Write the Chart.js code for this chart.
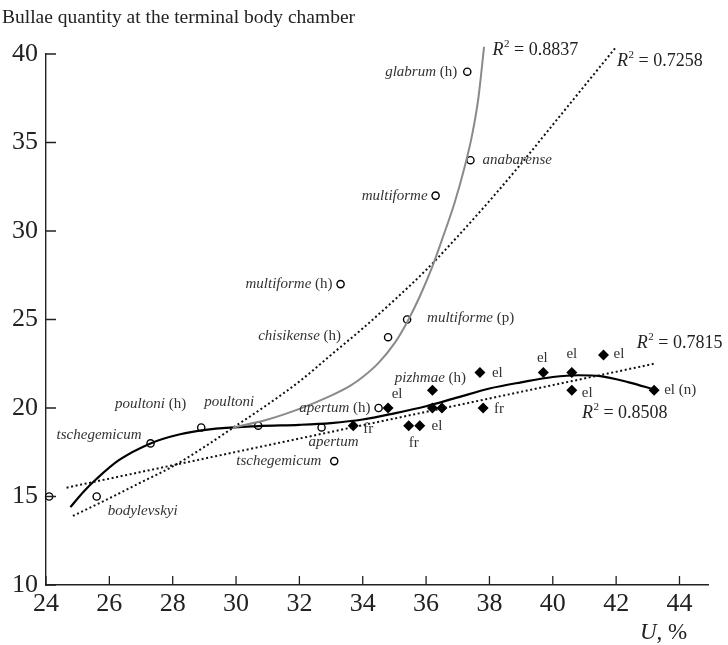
<!DOCTYPE html>
<html>
<head>
<meta charset="utf-8">
<script src="https://cdn.jsdelivr.net/npm/chart.js@4.4.1/dist/chart.umd.min.js"></script>
<style>
html,body{margin:0;padding:0;background:#fff}
</style>
</head>
<body>
<canvas id="chart" width="728" height="645"></canvas>
<script>

// DATA

// open circles (species)
const openX = [24.1, 25.6, 27.3, 28.9, 30.7, 32.7, 33.1, 34.5, 34.8, 35.4, 33.3, 36.3, 37.4, 37.3];
const openY = [15, 15, 18, 18.9, 19, 18.9, 17, 20, 24, 25, 27, 32, 34, 39];
const openNames = ["", "bodylevskyi", "tschegemicum", "poultoni (h)", "poultoni", "apertum", "tschegemicum",
  "apertum (h)", "chisikense (h)", "multiforme (p)", "multiforme (h)", "multiforme", "anabarense", "glabrum (h)"];

// filled diamonds
const filledX = [33.7, 34.8, 35.45, 35.8, 36.2, 36.2, 36.5, 37.7, 37.8, 39.7, 40.6, 40.6, 41.6, 43.2];
const filledY = [19, 20, 19, 19, 21, 20, 20, 22, 20, 22, 22, 21, 23, 21];
const filledNames = ["fr", "el", "fr", "", "pizhmae (h)", "", "el", "el", "fr", "el", "el", "el", "el", "el (n)"];

// trend lines
const grayX = [29.9, 31.0, 32.0, 33.0, 33.6, 34.0, 34.5, 35.0, 35.4, 35.8, 36.2, 36.5, 36.9, 37.2, 37.45, 37.65, 37.83];
const grayY = [18.9, 19.35, 19.95, 20.7, 21.25, 21.75, 22.55, 23.65, 24.85, 26.3, 28.0, 29.5, 31.6, 33.5, 35.4, 37.5, 40.4];

const expX = [24.85, 26, 27, 28, 29, 30, 31, 32, 33, 34, 35, 36, 37, 38, 39, 40, 41, 42];
const expY = [13.9, 14.9, 15.8, 16.7, 17.8, 19.0, 20.2, 21.5, 23.0, 24.5, 26.1, 27.8, 29.7, 31.7, 33.8, 36.0, 38.2, 40.4];

const polyX = [24.77, 25.2, 25.6, 26.3, 27.3, 28.2, 29.1, 30.7, 32, 33, 34, 35, 36, 37, 38, 39, 40, 40.8, 41.5, 42.4, 43.2];
const polyY = [14.4, 15.3, 16.0, 17.05, 18.0, 18.5, 18.78, 18.98, 19.05, 19.15, 19.35, 19.7, 20.1, 20.6, 21.1, 21.45, 21.75, 21.85, 21.8, 21.45, 21.05];

const linX = [24.65, 43.2];
const linY = [15.5, 22.5];

const r2Values = ["0.8837", "0.7258", "0.7815", "0.8508"];

const xTicks = [24, 26, 28, 30, 32, 34, 36, 38, 40, 42, 44];
const yTicks = [10, 15, 20, 25, 30, 35, 40];

// LABEL PLACEMENT (pixel offsets from the point)

const openLabelPos = [null, [11, 15, "left"], [-9, -8, "right"], [-15, -23, "right"], [-4, -24, "right"],
  [12, 15, "center"], [-13, 0, "right"], [-8, 0, "right"], [-47, -1, "right"], [20, -1, "left"],
  [-8, 0, "right"], [-8, 0, "right"], [12, 0, "left"], [-10, 0, "right"]];

const filledLabelPos = [[10, 3, "left"], [9, -14, "center"], [5, 17, "center"], null, [-2, -12, "center"], null,
  [-5, 18, "center"], [12, 0, "left"], [11, 1, "left"], [-1, -15, "center"], [0, -19, "center"],
  [10, 3, "left"], [10, -1, "left"], [10, 0, "left"]];

// anchors of the R2 texts, in axis units
const r2AnchorX = [38.1, 42.03, 42.65, 40.92];
const r2AnchorY = [40.2, 39.6, 23.67, 19.72];

const SERIF = "'Liberation Serif', 'DejaVu Serif', serif";

function toPoints(xs, ys){
  return xs.map((v, i) => ({x: v, y: ys[i]}));
}

// draw text with italic species name and regular "(h)", "el", "fr"
function drawRich(ctx, name, x, y, align, size){
  let parts = [];
  let m = name.match(/^(.*?)(\s*\(.+\))?$/);
  let main = m[1], rest = m[2] || "";
  let plain = (main === "el" || main === "fr");
  parts.push({t: main, it: !plain});
  if(rest) parts.push({t: rest, it: false});
  let w = 0;
  parts.forEach(p => {
    ctx.font = (p.it ? "italic " : "") + size + "px " + SERIF;
    p.w = ctx.measureText(p.t).width;
    w += p.w;
  });
  let sx = x;
  if(align === "right") sx = x - w;
  if(align === "center") sx = x - w / 2;
  ctx.textAlign = "left";
  ctx.textBaseline = "middle";
  parts.forEach(p => {
    ctx.font = (p.it ? "italic " : "") + size + "px " + SERIF;
    ctx.fillText(p.t, sx, y);
    sx += p.w;
  });
}

function drawR2(ctx, value, x, y){
  ctx.textAlign = "left";
  ctx.textBaseline = "middle";
  ctx.font = "italic 18px " + SERIF;
  ctx.fillText("R", x, y);
  let sx = x + ctx.measureText("R").width;
  ctx.font = "11px " + SERIF;
  ctx.fillText("2", sx + 0.5, y - 6);
  sx += ctx.measureText("2").width + 0.5;
  ctx.font = "18px " + SERIF;
  ctx.fillText(" = " + value, sx, y);
}

// PLUGIN: ticks inside, labels, title

const decor = {
  id: "decor",
  afterDatasetsDraw(chart){
    const ctx = chart.ctx;
    const a = chart.chartArea;
    const x = chart.scales.x, y = chart.scales.y;
    ctx.save();

    // inward tick marks
    ctx.strokeStyle = "#222";
    ctx.lineWidth = 1.3;
    ctx.beginPath();
    xTicks.forEach(v => {
      let px = x.getPixelForValue(v);
      ctx.moveTo(px, a.bottom);
      ctx.lineTo(px, a.bottom - 9);
    });
    yTicks.forEach(v => {
      let py = y.getPixelForValue(v);
      ctx.moveTo(a.left, py);
      ctx.lineTo(a.left + 10, py);
    });
    ctx.stroke();

    // point labels
    ctx.fillStyle = "#333";
    openNames.forEach((n, i) => {
      let p = openLabelPos[i];
      if(!n || !p) return;
      drawRich(ctx, n, x.getPixelForValue(openX[i]) + p[0], y.getPixelForValue(openY[i]) + p[1], p[2], 15);
    });
    filledNames.forEach((n, i) => {
      let p = filledLabelPos[i];
      if(!n || !p) return;
      drawRich(ctx, n, x.getPixelForValue(filledX[i]) + p[0], y.getPixelForValue(filledY[i]) + p[1], p[2], 15);
    });

    // R2 texts
    ctx.fillStyle = "#222";
    r2Values.forEach((v, i) => {
      drawR2(ctx, v, x.getPixelForValue(r2AnchorX[i]), y.getPixelForValue(r2AnchorY[i]));
    });

    // title and axis name
    ctx.textAlign = "left";
    ctx.textBaseline = "alphabetic";
    ctx.font = "19.5px " + SERIF;
    ctx.fillText("Bullae quantity at the terminal body chamber", 2, 23);

    ctx.font = "italic 23px " + SERIF;
    ctx.fillText("U", 640, 639);
    let uw = ctx.measureText("U").width;
    ctx.font = "23px " + SERIF;
    ctx.fillText(", %", 640 + uw, 639);

    ctx.restore();
  }
};

// CHART

new Chart(
document.getElementById("chart"),
{
type: "scatter",
data: {
  datasets: [
    {
      data: toPoints(grayX, grayY),
      showLine: true,
      borderColor: "#8a8a8a",
      borderWidth: 2,
      pointRadius: 0,
      cubicInterpolationMode: "monotone",
      clip: false
    },
    {
      data: toPoints(expX, expY),
      showLine: true,
      borderColor: "#111",
      borderWidth: 2,
      borderDash: [2, 2.6],
      pointRadius: 0,
      cubicInterpolationMode: "monotone",
      clip: false
    },
    {
      data: toPoints(linX, linY),
      showLine: true,
      borderColor: "#111",
      borderWidth: 2,
      borderDash: [2, 2.6],
      pointRadius: 0,
      clip: false
    },
    {
      data: toPoints(polyX, polyY),
      showLine: true,
      borderColor: "#000",
      borderWidth: 2.2,
      pointRadius: 0,
      cubicInterpolationMode: "monotone",
      clip: false
    },
    {
      data: toPoints(openX, openY),
      pointStyle: "circle",
      pointRadius: 3.6,
      pointBorderWidth: 1.4,
      pointBackgroundColor: "#fff",
      pointBorderColor: "#000",
      clip: false
    },
    {
      data: toPoints(filledX, filledY),
      pointStyle: "rectRot",
      pointRadius: 5.5,
      pointBorderWidth: 0,
      pointBackgroundColor: "#000",
      pointBorderColor: "#000",
      clip: false
    }
  ]
},
options: {
  responsive: false,
  animation: false,
  events: [],
  layout: {padding: {top: 54, right: 20, left: 0, bottom: 0}},
  plugins: {legend: {display: false}, tooltip: {enabled: false}},
  scales: {
    x: {
      type: "linear",
      min: 24,
      max: 44.9,
      afterFit: s => { s.height = 60; },
      afterBuildTicks: s => { s.ticks = xTicks.map(v => ({value: v})); },
      grid: {display: false, drawTicks: false},
      border: {display: true, color: "#222", width: 1.4},
      ticks: {color: "#222", padding: 4, font: {family: SERIF, size: 26}, maxRotation: 0, autoSkip: false}
    },
    y: {
      type: "linear",
      min: 10,
      max: 40,
      afterFit: s => { s.width = 46; },
      afterBuildTicks: s => { s.ticks = yTicks.map(v => ({value: v})); },
      grid: {display: false, drawTicks: false},
      border: {display: true, color: "#222", width: 1.4},
      ticks: {color: "#222", padding: 8, font: {family: SERIF, size: 26}, autoSkip: false}
    }
  }
},
plugins: [decor]
}
);

</script>
</body>
</html>
